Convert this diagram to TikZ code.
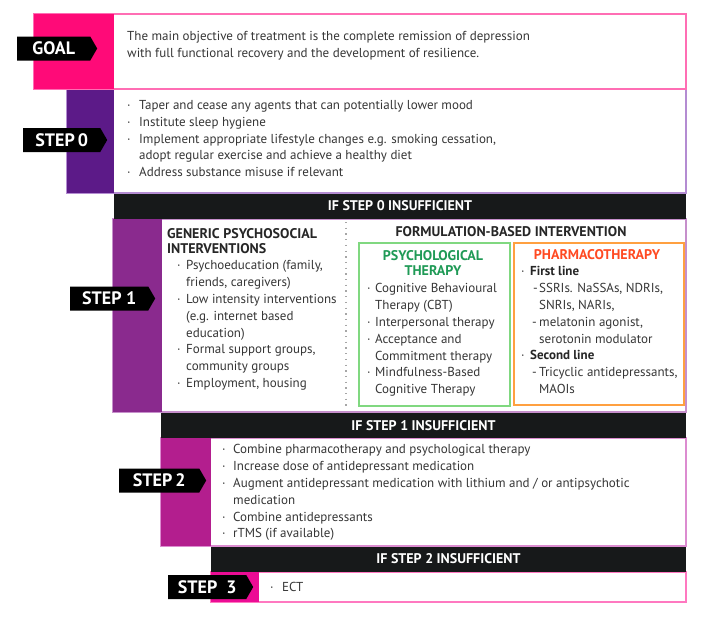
\documentclass[tikz,border=0pt]{standalone}
\usepackage{fontspec}
\setmainfont{PT Sans}
\usepackage{xcolor}
\usetikzlibrary{shapes.symbols,positioning}

\definecolor{goalpink}{HTML}{FF0A78}
\definecolor{goalline}{HTML}{FF6EB4}
\definecolor{stepzero}{HTML}{5C1A88}
\definecolor{zeroline}{HTML}{B48CD2}
\definecolor{stepone}{HTML}{8A2A8E}
\definecolor{oneline}{HTML}{C68FCB}
\definecolor{steptwo}{HTML}{B31E8E}
\definecolor{twoline}{HTML}{DC8CD0}
\definecolor{stepthree}{HTML}{EC0C95}
\definecolor{threeline}{HTML}{FF78C0}
\definecolor{barblack}{HTML}{17191A}
\definecolor{txtgrey}{HTML}{363636}
\definecolor{psygreen}{HTML}{1F9A56}
\definecolor{psyline}{HTML}{80D880}
\definecolor{pharmred}{HTML}{FF4A22}
\definecolor{pharmline}{HTML}{FFA040}

\newcommand{\bul}[1][12pt]{\makebox[#1][l]{·}}
\newcommand{\cont}[1][12pt]{\hspace*{#1}}
\newcommand{\dsh}{\makebox[7pt][l]{-}}

\begin{document}
\begin{tikzpicture}[
  x=1pt, y=-1pt,
  tag/.style={shape=signal, signal to=east, signal pointer angle=120, fill=black,
    text=white, font=\bfseries\fontsize{18}{20}\selectfont, minimum height=24pt,
    inner sep=0pt, anchor=west},
  bartext/.style={text=white, font=\bfseries\fontsize{14}{16}\selectfont},
  body/.style={anchor=north west, align=left, inner sep=0pt, text=txtgrey,
    font=\fontsize{13}{16.8}\selectfont},
  head/.style={anchor=north west, align=left, inner sep=0pt, text=black!85,
    font=\bfseries\fontsize{14}{15.5}\selectfont},
  boxline/.style={line width=1.3pt}
]
\useasboundingbox (0,0) rectangle (705,621);

% panels, from the bottom up
\draw[boxline, threeline, fill=white] (211,572) rectangle (686,602);
\fill[stepthree] (211,572) rectangle (259,602);
\fill[barblack] (211,546) rectangle (686,572);
\draw[boxline, twoline, fill=white] (161,438) rectangle (686,546);
\fill[steptwo] (161,438) rectangle (211,546);
\fill[barblack] (161,413) rectangle (686,438);
\draw[boxline, oneline, fill=white] (113,219) rectangle (686,412);
\fill[stepone] (113,219) rectangle (162,412);
\fill[barblack] (114,193) rectangle (686,219);
\draw[boxline, zeroline, fill=white] (67,89) rectangle (686,193);
\fill[stepzero] (67,89) rectangle (114,193);
\draw[boxline, goalline, fill=white] (34,14) rectangle (686,89);
\fill[goalpink] (34,14) rectangle (114,89);

% tags
\node[tag, minimum width=80pt] (goaltag) at (17,48.5) {GOAL\hspace{6pt}};
\node[tag, minimum width=84pt] (zerotag) at (23,140) {STEP\,0\hspace{6pt}};
\node[tag, minimum width=85pt] (onetag) at (70,298.5) {STEP 1\hspace{6pt}};
\node[tag, minimum width=87pt] (twotag) at (119,480.5) {STEP\,2\hspace{6pt}};
\node[tag, minimum width=85pt] (threetag) at (168,587) {STEP\ \ 3\hspace{6pt}};

% bars
\node[bartext] (barzero) at (400,206) {IF STEP 0 INSUFFICIENT};
\node[bartext] (barone) at (423.5,425.5) {IF STEP 1 INSUFFICIENT};
\node[bartext] (bartwo) at (448.5,559) {IF STEP 2 INSUFFICIENT};

% goal and step 0
\node[body] (goaltxt) at (127,31.5) {The main objective of treatment is the complete remission of depression\\
  with full functional recovery and the development of resilience.};
\node[body, font=\fontsize{13}{16.6}\selectfont] (zerotxt) at (127,100.5) {\bul Taper and cease any agents that can potentially lower mood\\
  \bul Institute sleep hygiene\\
  \bul Implement appropriate lifestyle changes e.g. smoking cessation,\\
  \cont adopt regular exercise and achieve a healthy diet\\
  \bul Address substance misuse if relevant};

% step 1
\node[head] (genhead) at (167,228.3) {GENERIC PSYCHOSOCIAL\\INTERVENTIONS};
\node[body] (gentxt) at (177,260.5) {\bul[9pt]Psychoeducation (family,\\
  \cont[9pt]friends, caregivers)\\
  \bul[9pt]Low intensity interventions\\
  \cont[9pt](e.g. internet based\\
  \cont[9pt]education)\\
  \bul[9pt]Formal support groups,\\
  \cont[9pt]community groups\\
  \bul[9pt]Employment, housing};
\draw[line width=1.3pt, gray!70, dash pattern=on 1.3pt off 4.4pt] (346,222) -- (346,409);
\node[head, anchor=center] (formhead) at (511,232) {FORMULATION-BASED INTERVENTION};

\draw[boxline, psyline] (359,243) rectangle (510,406);
\node[head, anchor=north, align=center, text=psygreen] (psyhead) at (433,250.3) {PSYCHOLOGICAL\\THERAPY};
\node[body] (psytxt) at (367,283.5) {\bul[8pt]Cognitive Behavioural\\
  \cont[8pt]Therapy (CBT)\\
  \bul[8pt]Interpersonal therapy\\
  \bul[8pt]Acceptance and\\
  \cont[8pt]Commitment therapy\\
  \bul[8pt]Mindfulness-Based\\
  \cont[8pt]Cognitive Therapy};

\draw[boxline, pharmline] (514,243) rectangle (684,405);
\node[head, anchor=center, text=pharmred] (pharmhead) at (597,255) {PHARMACOTHERAPY};
\node[body] (pharmtxt) at (521,266.5) {\bul[9pt]\textbf{\color{black!85}First line}\\
  \cont[12pt]\makebox[6pt][l]{-}SSRIs. NaSSAs, NDRIs,\\
  \cont[18pt]SNRIs, NARIs,\\
  \cont[11pt]\dsh melatonin agonist,\\
  \cont[18pt]serotonin modulator\\
  \bul[9pt]\textbf{\color{black!85}Second line}\\
  \cont[11pt]\dsh Tricyclic antidepressants,\\
  \cont[18pt]MAOIs};

% step 2 and step 3
\node[body] (twotxt) at (222,444.5) {\bul[11pt]Combine pharmacotherapy and psychological therapy\\
  \bul[11pt]Increase dose of antidepressant medication\\
  \bul[11pt]Augment antidepressant medication with lithium and / or antipsychotic\\
  \cont[11pt]medication\\
  \bul[11pt]Combine antidepressants\\
  \bul[11pt]rTMS (if available)};
\node[body, anchor=base west] (threetxt) at (270,591) {\bul ECT};
\end{tikzpicture}
\end{document}
